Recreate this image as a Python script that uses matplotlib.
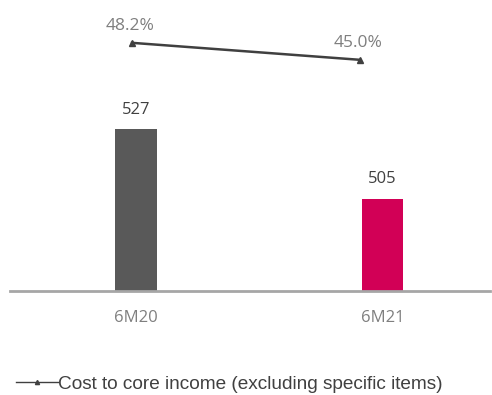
import matplotlib.pyplot as plt
from matplotlib.lines import Line2D

periodos = ['6M20', '6M21']
costes = [527, 505]
colores_barras = ['#595959', '#D20056']
ratio_coste = [48.2, 45.0]
etiquetas_ratio = ['48.2%', '45.0%']
leyenda = 'Cost to core income (excluding specific items)'

W, H = 492, 395
fig = plt.figure(figsize=(W / 100, H / 100), dpi=100)

# ejes de barras (fondo de escala recortado)
izq, der, arriba, abajo = 10, 490, 12, 291
rect = [izq / W, 1 - abajo / H, (der - izq) / W, (abajo - arriba) / H]
ax = fig.add_axes(rect)
x = list(range(len(periodos)))
ax.bar(x, costes, width=0.17, color=colores_barras, zorder=2)
ax.set_xlim(-0.511, 1.436)
ax.set_ylim(476, 564)
for xi, v in zip(x, costes):
    ax.annotate(str(v), (xi, v), xytext=(0, 8.5), textcoords='offset points',
                ha='center', va='bottom', fontsize=12, color='#404040',
                family='Open Sans')
ax.set_xticks(x)
ax.set_xticklabels(periodos, fontsize=12, color='#7F7F7F', family='Open Sans')
ax.tick_params(axis='x', length=0, pad=14)
ax.set_yticks([])
for lado in ['top', 'right', 'left']:
    ax.spines[lado].set_visible(False)
ax.spines['bottom'].set_color('#A6A6A6')
ax.spines['bottom'].set_linewidth(2)

# ejes de la linea de ratio
ax2 = fig.add_axes(rect, facecolor='none')
ax2.plot(x, ratio_coste, color='#404040', lw=1.8, marker='^', markersize=5)
ax2.set_xlim(-0.535, 1.570)
ax2.set_ylim(1.5, 54.0)
for xi, v, t in zip(x, ratio_coste, etiquetas_ratio):
    ax2.annotate(t, (xi, v), xytext=(-1.5, 6), textcoords='offset points',
                 ha='center', va='bottom', fontsize=12.5, color='#7F7F7F',
                 family='Open Sans')
ax2.axis('off')

manejador = Line2D([], [], color='#404040', lw=1, marker='^', markersize=3)
fig.legend([manejador], [leyenda], loc='center left',
           bbox_to_anchor=(-1 / W, 1 - 384 / H), frameon=False,
           handlelength=2.2, handletextpad=0.0,
           prop={'family': 'Liberation Sans', 'size': 13.7}, labelcolor='#404040')

fig.savefig('out.png', dpi=100)
